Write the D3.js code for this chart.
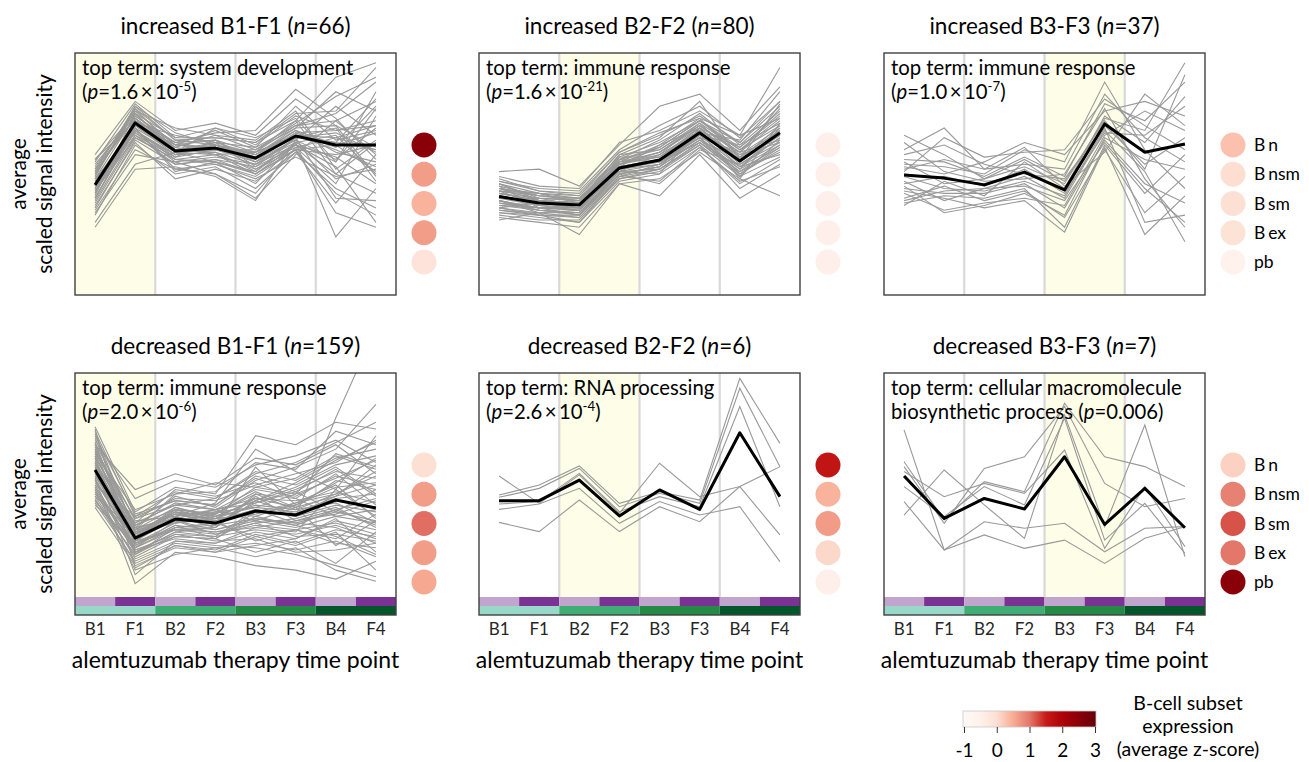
<!DOCTYPE html>
<html><head><meta charset="utf-8">
<script src="https://cdn.jsdelivr.net/npm/d3@7"></script>
<style>
body{margin:0;background:#fff;}
svg{display:block;}
text{font-family:Lato,"Open Sans",sans-serif;fill:#000;}
</style></head><body>
<svg id="chart" width="1309" height="762"></svg>
<script>
const timePoints = ["B1","F1","B2","F2","B3","F3","B4","F4"];
const subsetLabels = [["B","n"],["B","nsm"],["B","sm"],["B","ex"],["pb",""]];
const legendTicks = [-1,0,1,2,3];

// increased B1-F1
const incB1F1Mean = [4.55,7.11,5.95,6.07,5.66,6.57,6.2,6.2];
const incB1F1Genes = [
 [4.5,7.2,6.0,6.1,5.6,6.6,6.3,6.0],[5.0,7.6,6.2,6.4,5.9,7.0,7.5,8.8],[4.0,6.8,5.6,5.8,5.2,6.2,5.0,4.2],
 [5.5,7.9,6.5,6.9,6.2,7.4,6.8,7.2],[3.6,6.4,5.4,5.6,5.0,6.0,4.2,3.3],[4.8,7.4,6.3,6.0,6.0,6.9,8.4,7.6],
 [4.2,7.0,5.8,6.2,5.5,6.4,5.6,6.9],[3.0,5.4,5.9,5.5,4.6,6.3,6.6,5.0],[5.2,7.3,6.1,6.6,6.4,7.6,5.2,6.4],
 [4.4,6.9,5.2,5.0,4.0,5.8,7.2,8.0],[4.7,7.1,6.6,6.3,5.8,6.8,5.9,5.5],[3.9,6.6,5.7,6.4,5.3,6.1,4.6,7.4],
 [5.8,8.0,6.8,7.1,6.6,8.1,7.0,6.1],[4.1,7.5,6.0,5.9,5.1,6.5,6.9,4.7],[3.3,6.2,5.0,5.3,4.4,5.9,3.8,5.8],
 [4.9,7.7,6.4,6.5,6.3,7.2,9.0,9.6],[4.6,6.7,5.5,5.7,5.4,6.2,5.3,3.0],[5.4,7.4,6.2,6.8,6.1,7.8,6.4,6.8],
 [4.3,6.5,5.6,5.4,4.8,5.7,4.9,5.2],[2.8,5.2,5.3,4.9,3.9,6.4,7.8,6.6],[5.1,7.8,6.7,6.2,5.7,6.7,6.1,7.8],
 [4.0,7.0,5.9,6.0,5.5,6.3,2.4,4.4],[5.6,7.2,6.3,6.7,6.8,8.5,7.3,5.6],[4.5,6.9,5.1,5.5,5.0,6.0,5.8,6.2],
 [3.7,6.3,4.8,5.2,4.7,5.9,4.4,3.6],[5.3,7.6,6.9,6.6,6.0,7.1,8.2,9.0],[4.2,7.3,6.1,5.8,5.9,6.6,6.0,5.3],
 [4.8,6.8,5.8,6.3,5.2,6.0,3.4,2.8],[3.4,5.8,5.5,5.0,4.2,6.1,6.5,7.0],[4.6,7.1,6.0,6.2,5.8,6.9,7.0,4.9],
 [5.0,7.5,5.9,6.9,6.5,7.3,5.5,8.4],[4.4,6.6,5.4,5.6,5.3,6.5,6.7,5.9],
 [4.7,7.0,6.2,6.0,5.7,6.8,6.2,6.7],[5.1,7.3,6.0,6.3,6.1,7.0,7.2,5.8],[3.8,6.5,5.6,5.5,5.1,6.3,5.5,7.7],
 [4.9,7.8,6.4,6.2,5.9,6.6,6.5,6.0],[4.3,6.8,5.7,6.0,5.6,6.4,4.8,5.4],[5.6,7.5,6.5,6.5,6.3,7.5,7.6,9.4],
 [4.0,6.9,5.9,5.8,5.0,6.2,5.7,4.6],[4.6,7.2,6.3,6.4,5.5,6.7,6.8,7.0],[5.2,7.7,6.0,6.0,5.9,7.2,5.0,6.3],
 [3.5,6.0,5.2,5.4,4.9,6.0,6.2,5.1],[4.4,7.1,6.2,6.1,5.8,6.6,6.3,8.1],[4.8,6.7,5.8,5.9,5.4,6.5,4.0,3.9]
];
const incB1F1Subsets = [2.5,0.65,0.45,0.65,-0.1];

// increased B2-F2
const incB2F2Mean = [4.07,3.8,3.72,5.25,5.58,6.7,5.54,6.7];
const incB2F2Genes = [
 [4.1,3.8,3.7,5.3,5.6,6.7,5.5,6.7],[4.5,4.1,4.0,5.6,6.0,7.1,6.0,7.3],[3.7,3.5,3.4,5.0,5.3,6.4,5.1,6.2],
 [4.8,4.3,4.2,5.9,6.6,7.4,6.3,7.8],[3.4,3.2,3.0,4.7,5.0,6.1,4.6,5.6],[4.3,4.0,3.9,5.4,5.9,7.0,5.8,6.9],
 [3.9,3.6,3.6,5.1,5.4,6.6,5.3,6.5],[5.1,5.2,4.5,6.2,7.8,8.3,6.8,8.6],[3.1,3.4,2.5,4.6,4.1,5.8,4.0,5.0],
 [4.6,3.9,3.8,5.5,5.7,6.9,5.6,7.0],[4.0,3.7,3.5,5.2,5.5,6.5,5.9,6.4],[4.4,4.2,4.1,5.7,6.3,7.2,6.1,7.5],
 [3.6,3.3,3.3,4.9,5.2,6.3,5.0,6.0],[4.2,3.9,3.8,5.4,5.8,6.8,4.8,7.1],[3.8,3.6,3.5,5.0,4.6,6.0,5.4,6.3],
 [4.7,4.4,4.3,6.0,7.0,7.8,6.5,8.0],[3.3,3.1,3.1,4.8,5.1,6.2,4.4,5.4],[4.1,3.8,3.9,5.3,6.2,7.3,5.7,6.8],
 [4.3,3.7,3.6,5.6,5.5,6.6,6.2,7.6],[3.5,3.4,3.2,4.9,5.4,6.4,5.2,6.1],[4.9,4.5,4.4,6.3,6.8,7.6,6.6,9.4],
 [3.9,3.5,3.4,5.1,5.0,6.9,5.5,6.6],[4.0,4.0,3.7,5.5,5.9,7.0,5.9,7.2],[3.2,3.0,2.8,4.6,4.8,5.9,4.8,4.1],
 [4.4,4.1,3.9,5.8,6.5,8.0,5.6,7.9],[3.7,3.8,3.6,5.2,5.6,6.5,4.9,6.4],[4.6,4.2,4.0,5.4,6.1,7.2,6.0,7.0],
 [3.6,3.4,3.4,5.0,5.3,6.8,5.3,5.8],[4.2,3.9,3.7,5.7,5.7,6.7,6.4,8.4],[3.9,3.6,3.5,5.3,5.5,6.3,5.1,5.9],
 [4.0,3.9,3.8,5.4,5.7,6.8,5.7,6.8],[4.6,4.0,3.9,5.5,6.2,6.9,6.1,7.4],[3.5,3.3,3.2,4.8,5.2,6.2,4.9,5.7],
 [4.3,4.2,3.8,5.1,5.8,7.1,5.5,6.6],[3.8,3.5,3.3,5.2,5.4,6.5,5.2,6.9],[4.5,3.6,3.6,5.6,6.4,7.5,6.2,7.1],
 [4.2,4.0,4.0,5.3,5.6,6.6,5.8,6.3],[3.4,3.3,3.0,4.9,4.7,6.1,4.7,5.3],[4.1,3.7,3.8,5.8,6.0,7.0,5.9,7.7],
 [4.7,4.3,4.1,5.9,6.7,7.3,6.6,7.3],[3.7,3.6,3.3,5.0,5.3,6.4,5.6,6.7],[4.4,3.9,3.7,5.4,5.9,6.9,5.4,6.5],
 [3.9,3.4,3.5,5.3,5.6,6.7,5.0,6.1],[4.3,4.1,4.0,5.6,6.1,7.2,6.3,8.0],[3.6,3.8,3.6,5.1,5.2,6.3,5.3,6.2]
];
const incB2F2Subsets = [-0.45,-0.45,-0.45,-0.45,-0.45];

// increased B3-F3
const incB3F3Mean = [4.96,4.83,4.55,5.08,4.34,7.07,5.9,6.24];
const incB3F3Genes = [
 [5.0,4.8,4.6,5.1,4.3,7.1,5.9,6.2],[5.6,5.5,4.9,5.7,4.9,7.9,7.2,8.8],[4.4,4.2,4.2,4.6,3.6,6.4,4.6,3.8],
 [6.0,6.9,5.2,5.4,5.2,8.3,6.5,5.5],[4.0,4.5,3.9,4.3,3.2,6.0,3.4,4.9],[5.3,5.0,5.5,6.3,5.8,7.6,8.0,7.4],
 [4.7,3.9,4.4,4.9,4.0,6.8,5.1,2.2],[6.6,5.8,4.8,5.3,4.6,7.3,6.8,9.6],[3.8,4.1,4.0,4.4,2.8,6.2,4.2,5.8],
 [5.4,5.3,5.0,6.0,5.5,8.8,6.0,4.4],[4.2,3.5,3.8,4.0,3.7,6.6,7.6,6.8],[5.8,6.2,5.4,5.0,4.8,7.0,5.4,6.5],
 [4.9,4.4,4.3,4.7,4.1,6.9,3.0,3.3],[3.7,4.7,4.1,5.5,4.4,7.4,6.3,8.2],[5.2,5.6,5.2,6.1,4.5,5.9,8.3,7.0],
 [4.5,3.4,3.7,4.2,3.3,6.5,5.6,5.2],[6.3,5.1,4.7,4.8,5.0,7.7,4.8,2.8],[4.6,4.9,4.5,5.2,4.2,6.7,6.6,7.8],
 [5.1,6.5,5.7,5.9,6.0,8.1,7.0,6.0],[4.3,4.0,3.6,3.9,2.6,6.1,2.5,4.1],[5.5,4.6,4.8,5.6,4.7,7.2,5.2,9.1],
 [3.9,4.3,4.4,4.5,3.9,6.3,4.4,3.0]
];
const incB3F3Subsets = [0.3,0.02,0,-0.05,-0.5];

// decreased B1-F1
const decB1F1Mean = [5.67,2.63,3.48,3.3,3.84,3.66,4.33,3.97];
const decB1F1Genes = [
 [5.7,2.6,3.5,3.3,3.8,3.7,4.3,4.0],[6.5,3.2,4.2,3.9,4.8,4.5,5.4,5.0],[4.8,2.0,2.9,2.7,3.0,2.8,3.2,2.6],
 [7.4,3.6,4.7,4.4,5.6,5.2,6.2,6.6],[4.2,1.6,2.4,2.2,2.4,2.1,2.5,1.8],[6.1,2.9,3.8,3.6,4.3,4.9,5.8,4.6],
 [5.2,2.3,3.2,3.0,3.4,3.1,3.6,3.3],[6.9,3.4,3.6,4.2,6.6,5.6,4.8,7.2],[4.5,1.8,2.7,2.6,2.0,2.5,1.5,2.9],
 [5.9,2.7,4.0,3.5,4.1,3.9,4.6,5.6],[6.3,3.0,3.3,3.8,3.6,4.2,5.0,3.5],[5.4,2.5,3.6,3.1,4.5,3.4,3.9,4.4],
 [7.0,4.4,5.2,4.9,5.9,6.3,7.0,6.0],[4.0,1.4,2.2,2.0,2.7,2.3,2.9,1.2],[5.5,2.8,3.9,3.4,3.9,3.6,4.1,3.8],
 [6.7,3.1,4.5,4.0,5.2,5.8,6.6,8.6],[4.9,2.2,3.0,2.8,3.2,3.0,2.4,2.2],[6.0,2.6,3.4,3.7,4.7,4.0,5.2,4.8],
 [5.0,2.1,2.6,2.4,2.9,2.6,3.4,3.0],[7.6,3.8,4.9,4.6,7.2,6.8,7.8,7.5],[5.3,0.6,2.0,1.8,1.4,1.2,0.8,1.6],
 [6.2,3.3,4.1,3.9,4.4,4.3,4.7,4.2],[4.6,2.4,3.1,3.2,3.5,3.3,3.8,3.4],[5.8,2.7,3.7,3.3,4.2,4.8,5.6,5.3],
 [6.6,3.5,4.4,4.3,5.0,5.5,6.0,7.0],[4.3,1.9,2.8,2.5,2.6,2.0,2.1,2.4],[5.6,2.9,3.3,3.6,4.0,3.8,4.4,4.6],
 [6.4,2.4,3.0,2.9,3.3,3.5,4.0,3.1],[5.1,3.0,4.6,5.1,4.9,4.6,6.4,5.8],[7.2,3.7,4.3,4.1,5.3,4.7,5.7,4.5],
 [4.7,1.7,2.5,2.3,2.2,1.9,1.4,0.9],[5.9,2.8,3.7,3.5,3.7,4.1,5.1,6.2],[6.8,4.8,5.5,5.0,6.2,5.9,6.8,5.5],
 [4.4,1.5,2.3,2.1,2.8,2.4,3.0,2.7],[5.5,2.5,3.5,3.4,3.9,3.6,8.0,12.0],[6.0,3.2,3.9,3.7,4.6,4.4,3.6,3.9],
 [5.3,2.2,3.1,2.9,3.1,2.9,4.8,3.6],[6.3,3.0,4.0,3.6,4.3,5.1,6.1,6.9],[4.9,2.0,2.7,2.6,3.6,3.2,2.7,1.9],
 [5.7,2.6,3.8,3.2,5.8,4.1,4.9,5.1],
 [7.3,2.9,3.4,3.0,3.5,3.2,3.9,3.2],[4.1,2.4,3.3,3.5,4.4,4.0,4.5,5.9],[6.6,2.1,2.8,2.7,3.9,3.3,3.1,2.4],
 [5.0,3.6,4.3,4.1,5.4,5.0,5.9,6.3],[7.5,1.3,2.3,2.0,2.3,2.6,3.5,2.0],[4.5,2.7,3.6,3.9,4.2,4.7,3.8,4.8],
 [6.2,1.9,3.1,3.3,2.7,3.0,2.6,3.7],[5.6,3.3,4.8,4.5,5.1,4.4,5.5,4.1],[6.9,2.3,3.2,2.6,3.8,4.2,4.6,5.4],
 [4.8,1.2,1.9,2.2,1.8,2.2,1.2,0.7],[6.4,3.9,4.6,4.7,6.0,5.7,7.4,6.8],[5.2,2.5,3.0,3.1,4.6,3.9,4.2,3.3],
 [7.1,3.0,3.7,3.8,4.0,4.6,5.3,6.1],[4.3,2.2,3.4,2.8,3.3,2.7,2.8,2.5],[5.8,1.0,2.5,2.4,3.1,3.4,3.7,4.3],
 [6.5,3.5,4.1,4.4,5.5,6.0,6.9,7.8],[4.6,2.8,3.8,3.4,2.5,3.0,3.3,2.8],[6.0,2.0,2.9,3.1,4.3,3.7,4.5,5.0],
 [5.4,3.1,3.5,3.9,3.4,4.0,2.3,3.4],[6.8,2.6,3.9,3.7,4.9,5.3,6.3,5.7]
];
const decB1F1Subsets = [0,0.65,1.05,0.65,0.55];

// decreased B2-F2
const decB2F2Mean = [4.3,4.3,5.22,3.62,4.78,3.91,7.33,4.48];
const decB2F2Genes = [
 [4.55,5.0,5.85,4.18,4.70,4.33,9.76,6.86],
 [4.45,4.85,5.74,4.03,4.63,4.18,9.32,5.82],
 [4.15,4.26,5.52,3.81,4.48,4.03,8.5,4.03],
 [5.40,4.18,5.45,3.74,5.97,4.48,4.93,2.77],
 [3.91,4.15,4.85,3.29,4.26,3.66,4.03,1.58],
 [3.33,2.92,4.33,2.92,4.03,3.36,4.93,5.82]
];
const decB2F2Subsets = [1.6,0.45,0.67,0.08,-0.45];

// decreased B3-F3
const decB3F3Mean = [5.40,3.51,4.40,3.93,6.26,3.24,4.85,3.09];
const decB3F3Genes = [
 [7.46,2.10,2.77,2.17,2.54,1.50,2.62,3.14],
 [3.66,5.67,4.11,2.62,8.13,3.14,7.68,1.80],
 [6.04,3.44,5.15,4.70,8.65,6.26,5.82,4.93],
 [5.82,3.29,5.74,6.26,8.50,5.07,4.03,4.40],
 [5.60,4.48,5.07,4.63,6.56,2.17,4.93,2.25],
 [4.93,3.59,4.93,4.11,7.98,2.54,4.18,1.95],
 [4.26,2.10,3.36,3.07,3.29,2.02,3.07,3.14]
];
const decB3F3Subsets = [0.15,0.9,1.2,1.0,2.5];

const sci = (m,e)=>[{t:"("},{t:"p",i:true},{t:"="+m+"\u2009×\u200910"},{t:e,sup:true},{t:")"}];
const panelInfo = [
 {dir:"increased",pair:"B1-F1",n:66,hl:0,mean:incB1F1Mean,genes:incB1F1Genes,subsets:incB1F1Subsets,
  lines:[[{t:"top term: system development"}],sci("1.6","-5")]},
 {dir:"increased",pair:"B2-F2",n:80,hl:1,mean:incB2F2Mean,genes:incB2F2Genes,subsets:incB2F2Subsets,
  lines:[[{t:"top term: immune response"}],sci("1.6","-21")]},
 {dir:"increased",pair:"B3-F3",n:37,hl:2,mean:incB3F3Mean,genes:incB3F3Genes,subsets:incB3F3Subsets,
  lines:[[{t:"top term: immune response"}],sci("1.0","-7")]},
 {dir:"decreased",pair:"B1-F1",n:159,hl:0,mean:decB1F1Mean,genes:decB1F1Genes,subsets:decB1F1Subsets,
  lines:[[{t:"top term: immune response"}],sci("2.0","-6")]},
 {dir:"decreased",pair:"B2-F2",n:6,hl:1,mean:decB2F2Mean,genes:decB2F2Genes,subsets:decB2F2Subsets,
  lines:[[{t:"top term: RNA processing"}],sci("2.6","-4")]},
 {dir:"decreased",pair:"B3-F3",n:7,hl:2,mean:decB3F3Mean,genes:decB3F3Genes,subsets:decB3F3Subsets,
  lines:[[{t:"top term: cellular macromolecule"}],[{t:"biosynthetic process ("},{t:"p",i:true},{t:"=0.006)"}]]}
];

const zColor = d3.scaleLinear()
  .domain([-1,-0.5,0,0.5,1,1.5,2,3])
  .range(["#fff8f5","#fff1ec","#fde0d4","#f9ad95","#e3776a","#c61a18","#ad0008","#650008"])
  .clamp(true);

const svg = d3.select("#chart");
const defs = svg.append("defs");
const colX=[75,479,884], rowY=[53,373], W=321, H=242, barH=9;
const purples=["#c2a5cf","#7b3294"], greens=["#98d8c8","#3fae74","#238b45","#00582a"];

function addRich(sel, segs){
  let shifted=false;
  segs.forEach(s=>{
    const ts=sel.append("tspan").text(s.t);
    if(s.i) ts.attr("font-style","italic");
    if(s.sup){ts.attr("font-size","0.65em").attr("dy",-8); shifted=true;}
    else if(shifted){ts.attr("dy",8); shifted=false;}
  });
}

panelInfo.forEach((p,i)=>{
  const row=i<3?0:1, col=i%3;
  const x0=colX[col], y0=rowY[row];
  const x=d3.scaleBand().domain(timePoints).range([x0,x0+W]);
  const bw=x.bandwidth();
  const cx=t=>x(t)+bw/2;
  const plotBottom = row===0 ? y0+H : y0+H-2*barH;
  const y=d3.scaleLinear().domain([0,10]).range([plotBottom,y0]);
  const g=svg.append("g");
  defs.append("clipPath").attr("id","clip"+i).append("rect")
    .attr("x",x0).attr("y",y0).attr("width",W).attr("height",plotBottom-y0);
  g.append("rect").attr("x",x(timePoints[2*p.hl])).attr("y",y0)
    .attr("width",2*bw).attr("height",plotBottom-y0).attr("fill","#fefde8");
  [2,4,6].forEach(k=>g.append("line").attr("x1",x(timePoints[k])).attr("x2",x(timePoints[k]))
    .attr("y1",y0).attr("y2",plotBottom).attr("stroke","#d9d9d9").attr("stroke-width",2.2));
  const line=d3.line().x((d,j)=>cx(timePoints[j])).y(d=>y(d));
  const lg=g.append("g").attr("clip-path",`url(#clip${i})`);
  lg.selectAll("path.gene").data(p.genes).join("path").attr("class","gene")
    .attr("d",line).attr("fill","none").attr("stroke","#999").attr("stroke-width",1.1);
  lg.append("path").datum(p.mean).attr("d",line).attr("fill","none")
    .attr("stroke","#000").attr("stroke-width",3).attr("stroke-linejoin","round");
  if(row===1){
    g.selectAll("rect.pb").data(timePoints).join("rect").attr("class","pb")
      .attr("x",d=>x(d)).attr("y",plotBottom).attr("width",bw).attr("height",barH)
      .attr("fill",(d,j)=>purples[j%2]);
    g.selectAll("rect.gb").data([0,1,2,3]).join("rect").attr("class","gb")
      .attr("x",k=>x(timePoints[2*k])).attr("y",plotBottom+barH).attr("width",2*bw).attr("height",barH)
      .attr("fill",k=>greens[k]);
    const ax=g.append("g").attr("transform",`translate(0,${y0+H})`)
      .call(d3.axisBottom(x).tickSize(0).tickPadding(8));
    ax.select(".domain").remove();
    ax.selectAll("text").attr("font-family","'Liberation Sans',Arial,sans-serif")
      .attr("font-size",17).style("fill","#262626");
    g.append("text").attr("x",x0+W/2).attr("y",668).attr("text-anchor","middle")
      .attr("font-size",23).text("alemtuzumab therapy time point");
  }
  g.append("rect").attr("x",x0).attr("y",y0).attr("width",W).attr("height",H)
    .attr("fill","none").attr("stroke","#404040").attr("stroke-width",1.4);
  const tt=g.append("text").attr("x",x0+W/2).attr("y",y0-19).attr("text-anchor","middle").attr("font-size",22.5);
  addRich(tt,[{t:p.dir+" "+p.pair+" ("},{t:"n",i:true},{t:"="+p.n+")"}]);
  p.lines.forEach((segs,k)=>{
    const t=g.append("text").attr("x",x0+7).attr("y",y0+22+k*23.5).attr("font-size",20.3);
    addRich(t,segs);
  });
  const cy=d3.scalePoint().domain(subsetLabels.map(d=>d.join(""))).range([y0+92,y0+209]);
  g.selectAll("circle.sub").data(p.subsets).join("circle").attr("class","sub")
    .attr("cx",x0+W+28).attr("cy",(d,j)=>cy(subsetLabels[j].join(""))).attr("r",12.5)
    .attr("fill",d=>zColor(d));
  if(col===2){
    subsetLabels.forEach((lab,j)=>{
      const t=g.append("text").attr("x",x0+W+49).attr("y",cy(lab.join(""))+6).attr("font-size",17.5);
      t.append("tspan").text(lab[0]);
      if(lab[1]) t.append("tspan").attr("dx",3).text(lab[1]);
    });
  }
});

[174,494].forEach(cyl=>{
  svg.append("text").attr("transform",`translate(26,${cyl}) rotate(-90)`)
    .attr("text-anchor","middle").attr("font-size",21).text("average");
  svg.append("text").attr("transform",`translate(52,${cyl}) rotate(-90)`)
    .attr("text-anchor","middle").attr("font-size",21).text("scaled signal intensity");
});

const lx=d3.scaleLinear().domain([-1,3]).range([964,1095]);
const grad=defs.append("linearGradient").attr("id","zgrad");
d3.range(-1,3.01,0.25).forEach(v=>grad.append("stop")
  .attr("offset",((v+1)/4*100)+"%").attr("stop-color",zColor(v)));
svg.append("rect").attr("x",963).attr("y",711).attr("width",133).attr("height",16)
  .attr("fill","url(#zgrad)").attr("stroke","#c8c8c8").attr("stroke-width",0.8);
const lax=svg.append("g").attr("transform","translate(0,727)")
  .call(d3.axisBottom(lx).tickValues(legendTicks).tickSize(6).tickPadding(11).tickFormat(d=>String(d)));
lax.select(".domain").remove();
lax.selectAll("line").attr("stroke","#333");
lax.selectAll("text").attr("font-size",19).attr("font-family","Lato,sans-serif").style("fill","#000");
["B-cell subset","expression","(average z-score)"].forEach((s,k)=>
  svg.append("text").attr("x",1188).attr("y",710+k*23).attr("text-anchor","middle").attr("font-size",19.5).text(s));
</script>
</body></html>
